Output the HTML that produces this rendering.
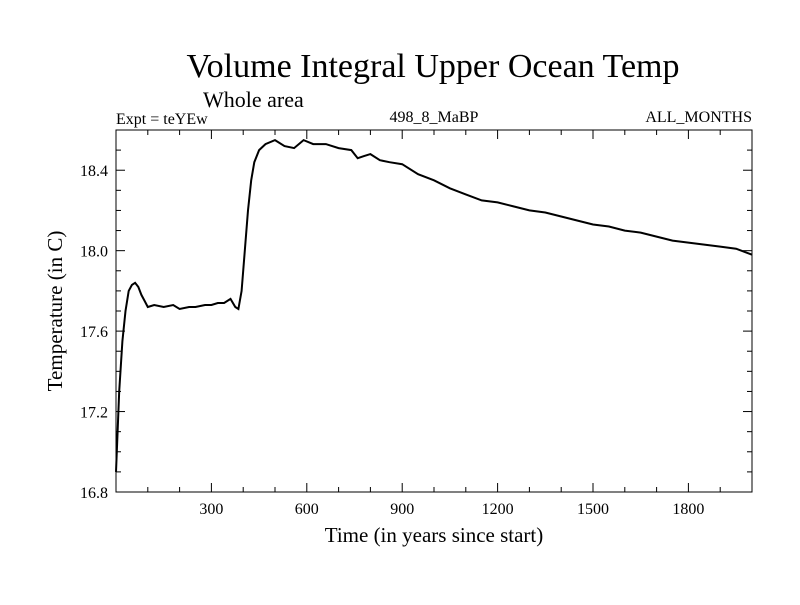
<!DOCTYPE html>
<html><head><meta charset="utf-8"><style>
body{margin:0;background:#fff}
svg text{font-family:"Liberation Serif",serif;fill:#000}
</style></head><body>
<svg width="800" height="600" xmlns="http://www.w3.org/2000/svg">
<text x="433" y="77" font-size="34" text-anchor="middle">Volume Integral Upper Ocean Temp</text>
<text x="203" y="107" font-size="22">Whole area</text>
<text x="116" y="124" font-size="16">Expt = teYEw</text>
<text x="434" y="122" font-size="16" text-anchor="middle">498_8_MaBP</text>
<text x="752" y="122" font-size="16" text-anchor="end">ALL_MONTHS</text>
<g id="axes"></g>
<path id="line" fill="none" stroke="#000" stroke-width="2"/>
<rect x="116" y="130" width="636" height="362" fill="none" stroke="#000" stroke-width="1"/>
<text x="434" y="542" font-size="21" text-anchor="middle">Time (in years since start)</text>
<text transform="translate(62,311) rotate(-90)" font-size="21" text-anchor="middle">Temperature (in C)</text>
</svg>
<script>
const years=[0,10,20,30,40,50,60,70,80,90,100,120,150,180,200,230,250,280,300,320,340,360,375,385,395,405,415,425,435,450,470,500,530,560,590,620,660,700,740,760,780,800,830,860,900,950,1000,1050,1100,1150,1200,1250,1300,1350,1400,1450,1500,1550,1600,1650,1700,1750,1800,1850,1900,1950,2000];
const temps=[16.9,17.3,17.55,17.7,17.8,17.83,17.84,17.82,17.78,17.75,17.72,17.73,17.72,17.73,17.71,17.72,17.72,17.73,17.73,17.74,17.74,17.76,17.72,17.71,17.8,18.0,18.2,18.35,18.44,18.5,18.53,18.55,18.52,18.51,18.55,18.53,18.53,18.51,18.5,18.46,18.47,18.48,18.45,18.44,18.43,18.38,18.35,18.31,18.28,18.25,18.24,18.22,18.2,18.19,18.17,18.15,18.13,18.12,18.1,18.09,18.07,18.05,18.04,18.03,18.02,18.01,17.98];
const xTicks=[300,600,900,1200,1500,1800];
const yTicks=[16.8,17.2,17.6,18.0,18.4];
const X0=116,X1=752,Y0=492,Y1=130,xMin=0,xMax=2000,yMin=16.8,yMax=18.6;
const sx=v=>X0+(v-xMin)/(xMax-xMin)*(X1-X0);
const sy=v=>Y0-(v-yMin)/(yMax-yMin)*(Y0-Y1);
const NS="http://www.w3.org/2000/svg",ax=document.getElementById('axes');
function mk(t,a){const e=document.createElementNS(NS,t);for(const k in a)e.setAttribute(k,a[k]);ax.appendChild(e);return e;}
for(let v=100;v<xMax;v+=100){const maj=v%300===0,l=maj?9:5;
 let e=mk('line',{x1:sx(v),x2:sx(v),y1:Y0,y2:Y0-l,stroke:'#000'});
 
 e=mk('line',{x1:sx(v),x2:sx(v),y1:Y1,y2:Y1+l,stroke:'#000'});
 }
xTicks.forEach(v=>{const t=mk('text',{x:sx(v),y:Y0+22,'font-size':16,'text-anchor':'middle'});t.textContent=v;
 });
for(let i=0;i<=18;i++){const v=yMin+i*0.1,maj=i%4===0,l=maj?9:5;
 let e=mk('line',{x1:X0,x2:X0+l,y1:sy(v),y2:sy(v),stroke:'#000'});
 
 e=mk('line',{x1:X1,x2:X1-l,y1:sy(v),y2:sy(v),stroke:'#000'});
 }
yTicks.forEach(v=>{const t=mk('text',{x:X0-8,y:sy(v)+6,'font-size':16,'text-anchor':'end'});t.textContent=v.toFixed(1);
 });
document.getElementById('line').setAttribute('d',years.map((y,i)=>(i?'L':'M')+sx(y).toFixed(1)+','+sy(temps[i]).toFixed(1)).join(''));
</script>
</body></html>
